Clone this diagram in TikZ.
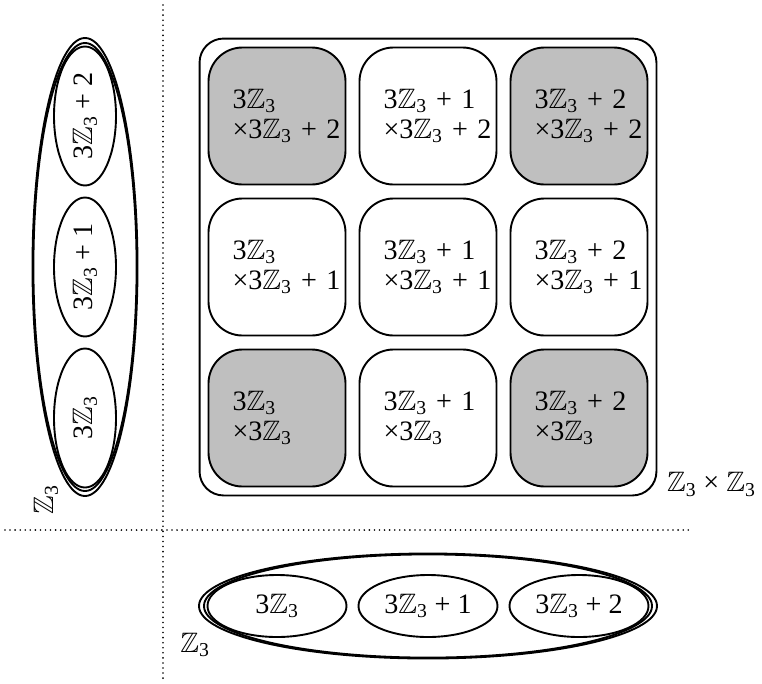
\documentclass[tikz,border=0pt]{standalone}
\usepackage{amsmath,amssymb}
\usepackage{fontspec}
\setmainfont{Liberation Serif}
\usetikzlibrary{shapes.geometric,fit,positioning}
\newcommand{\Zt}{$\mathbb{Z}_{\text{3}}$}

\begin{document}
\begin{tikzpicture}[line cap=round, line join=round,
  every node/.style={font=\fontsize{20}{21.6}\selectfont},
  cell/.style={draw, line width=1.35pt, rounded corners=0.85cm, minimum width=3.425cm, minimum height=3.425cm, text width=2.225cm, inner xsep=0.6cm, inner ysep=0pt, align=left},
  board/.style={draw, line width=1.35pt, rounded corners=0.6cm, inner sep=0.2cm},
  coset/.style={ellipse, draw, line width=1.35pt, minimum width=3.475cm, minimum height=1.55cm, inner sep=0pt},
  ring/.style={ellipse, draw, line width=1.35pt, minimum height=2.625cm, inner sep=0pt},
  guide/.style={line width=1.3pt, dash pattern=on 0pt off 3.6pt}]
  \useasboundingbox (0,0) rectangle (19.05,-17.075);
  % Dotted guides
  \coordinate (guide-top) at (4.075,-0.125);
  \coordinate (guide-bottom) at (4.075,-17.075);
  \coordinate (guide-left) at (0.125,-13.25);
  \coordinate (guide-right) at (17.25,-13.25);
  \draw [guide] (guide-top) -- (guide-bottom);
  \draw [guide] (guide-left) -- (guide-right);
  % Cosets of the product
  \foreach \b [count=\y] in {{~+~2},{~+~1},{}}
    \foreach \a [count=\x] in {{},{~+~1},{~+~2}} {
      \pgfmathtruncatemacro\tone{mod(\x*\y,2)*25}
      \node [cell, fill=black!\tone] (cell-\y-\x) at (3.15 + 3.775*\x, 0.875 - 3.775*\y) {3\Zt\a\\×3\Zt\b};
    }
  \node [board, fit=(cell-1-1)(cell-3-3)] (board) {};
  \node (board-label) at ([shift={(1.35,0.3)}]board.south east) {\Zt~×~\Zt};
  % Bottom group
  \node [ring, minimum width=11.45cm] (group-b) at (10.7,-15.15) {};
  \node [ring, minimum width=11.2cm, minimum height=2.58cm] (group-b-in) at (group-b) {};
  \foreach \a [count=\x] in {{},{~+~1},{~+~2}}
    \node [coset] (coset-b-\x) at (3.15 + 3.775*\x, -15.15) {3\Zt\a};
  \node (label-b) at ([shift={(-0.075,-0.975)}]group-b.west) {\Zt};
  % Left group
  \node [ring, rotate=90, minimum width=11.45cm] (group-l) at (2.125,-6.675) {};
  \node [ring, rotate=90, minimum width=11.2cm, minimum height=2.58cm] (group-l-in) at (group-l) {};
  \foreach \a [count=\y] in {{~+~2},{~+~1},{}}
    \node [coset, rotate=90] (coset-l-\y) at (2.125, 0.875 - 3.775*\y) {3\Zt\a};
  \node [rotate=90] (label-l) at ([shift={(-0.975,-0.075)}]group-l.west) {\Zt};
\end{tikzpicture}
\end{document}
